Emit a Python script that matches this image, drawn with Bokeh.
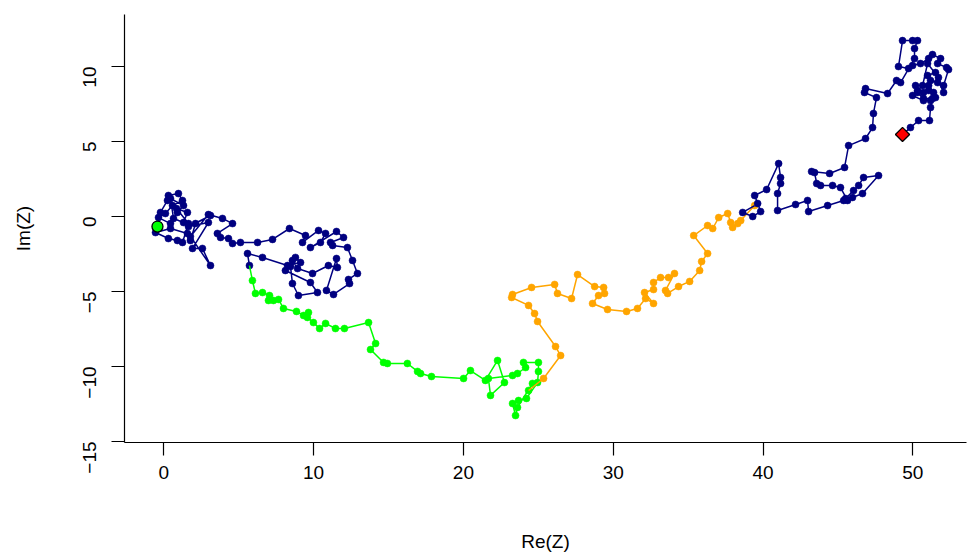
import math
from bokeh.plotting import figure
from bokeh.models import Range1d, FixedTicker
from bokeh.embed import file_html
from bokeh.resources import INLINE

# ---- data (random walk Z) ----
nav1_x = [-0.42,-0.22,0.25,0.31,0.98,1.25,0.58,0.11,-0.35,0.45,0.91,1.32,0.45,0.65,1.32,1.58,0.85,1.65,1.25,0.91,
          0.31,-0.55,0.45,1.58,1.78,2.12,3.12,1.65,2.98,1.92,2.58,3.12,1.78,2.98,3.92,4.59,3.58,3.79,4.32,4.59,
          5.12,6.26,7.26,8.39,9.46,9.26,10.33,10.80,10.46,9.79,11.53,12.00,11.13,11.27,12.26,12.60,12.93,12.33,12.40,11.33,
          10.86,11.53,11.59,10.99,9.93,8.93,8.59,8.79,9.13,8.26,8.12,9.79,10.26,8.99,8.59,8.46,6.59,5.59,5.72]
nav1_y = [-0.67,0.27,1.07,1.40,1.53,1.07,0.73,0.20,-0.07,-0.47,0.27,0.73,1.20,-0.13,-0.40,0.27,0.53,-0.47,-1.73,-1.60,
          -1.47,-1.07,-0.80,-1.13,-1.60,-0.47,0.07,-0.67,-0.40,-2.13,-2.13,-3.27,-1.33,0.13,-0.13,-0.47,-1.13,-1.40,-1.47,-1.80,
          -1.73,-1.73,-1.53,-0.80,-1.27,-1.73,-0.93,-1.13,-1.73,-2.07,-1.00,-1.40,-1.73,-1.93,-2.07,-2.93,-3.80,-4.20,-4.47,-5.20,
          -4.93,-2.80,-3.40,-3.27,-3.80,-3.47,-2.93,-2.73,-3.07,-3.27,-3.60,-4.40,-5.07,-5.27,-4.47,-3.33,-2.73,-2.47,-3.27]

green_x = [5.92,6.12,6.59,7.06,6.99,7.32,7.66,7.99,8.86,9.33,9.66,9.59,9.99,10.40,10.80,11.46,12.06,13.67,14.14,13.80,
           14.67,14.93,16.26,16.94,17.14,17.87,20.01,20.47,21.47,22.28,22.74,21.81,21.67,23.28,23.61,24.15,24.01,25.01,25.01,24.95,
           24.21,23.68,23.28,23.48,23.61,24.61,24.35]
green_y = [-4.27,-5.13,-5.07,-5.27,-5.60,-5.60,-5.53,-6.13,-6.33,-6.60,-6.40,-6.73,-7.07,-7.47,-7.13,-7.47,-7.47,-7.07,-8.47,-8.87,
           -9.73,-9.80,-9.80,-10.33,-10.47,-10.67,-10.80,-10.27,-10.93,-9.60,-11.07,-11.93,-10.80,-10.60,-10.47,-10.07,-9.73,-9.73,-10.33,-11.07,
           -12.13,-12.27,-12.47,-13.27,-12.73,-11.13,-11.60]

orange_x = [25.35,26.49,26.15,24.95,24.75,24.35,23.22,23.28,24.55,26.09,26.28,27.22,27.62,28.76,29.36,29.42,29.02,28.62,29.62,30.89,
            31.62,32.16,32.69,32.09,32.69,32.69,33.16,33.69,34.09,33.49,33.63,34.36,35.10,35.77,35.90,36.30,35.37,36.30,36.64,37.04,
            37.64,37.84,37.97,38.31,38.51,39.44]
orange_y = [-10.80,-9.27,-8.67,-7.00,-6.47,-5.93,-5.40,-5.20,-4.73,-4.53,-5.13,-5.47,-3.87,-4.67,-4.73,-5.13,-5.27,-5.80,-6.20,-6.33,
            -6.13,-5.47,-5.80,-5.07,-4.87,-4.40,-4.07,-4.07,-3.80,-4.93,-5.13,-4.67,-4.33,-3.60,-3.00,-2.47,-1.27,-0.60,-0.80,-0.07,
            0.20,-0.40,-0.73,-0.47,-0.27,0.73]

nav2_x = [38.64,39.31,39.84,39.64,39.44,40.24,41.04,41.17,41.17,40.97,40.97,42.17,42.97,43.04,44.31,45.38,45.51,46.04,46.38,46.71,
          47.71,46.64,45.97,45.64,45.17,44.64,43.84,43.58,43.44,43.24,44.44,45.44,45.71,46.84,47.31,47.37,47.57,46.77,46.84,48.31,
          48.91,49.18,50.11,50.11,50.31,49.98,49.31,49.04,49.71,49.98,50.51,51.05,51.31,51.85,51.65,52.25,52.38,52.05,52.05,51.51,
          50.98,51.18,51.65,51.71,50.98,50.65,50.18,50.31,50.71,51.05,51.05,51.38,51.51,51.18,50.71,49.98,50.31,50.71,51.31,51.18,
          51.11,50.38,49.84,49.31]
nav2_y = [0.27,0.00,0.33,0.87,1.40,1.80,3.53,2.60,2.20,1.53,0.40,0.80,1.07,0.33,0.73,1.07,1.20,1.73,2.07,2.60,
          2.73,1.53,1.27,1.07,1.93,2.07,2.07,2.20,2.93,3.00,2.87,3.27,4.73,5.20,5.93,6.87,7.93,8.27,8.53,8.20,
          9.07,8.93,10.53,11.20,11.73,11.73,11.73,10.00,9.87,10.07,10.20,10.53,10.80,10.53,10.20,9.93,9.80,8.73,8.27,9.60,
          9.40,9.07,8.93,9.27,10.20,8.73,8.73,8.40,8.27,8.40,8.73,8.27,7.93,7.73,7.73,8.07,8.27,7.87,7.87,7.27,
          6.40,6.40,5.93,5.47]

x_ticks = [0, 10, 20, 30, 40, 50]
x_tick_labels = ["0", "10", "20", "30", "40", "50"]
y_ticks = [-15, -10, -5, 0, 5, 10]
y_tick_labels = ["\u221215", "\u221210", "\u22125", "0", "5", "10"]

NAVY = "#000080"
GREEN = "#00FF00"
ORANGE = "#FFA500"
FONT = "Liberation Sans"

p = figure(width=968, height=554, output_backend="svg", toolbar_location=None,
           x_range=Range1d(-2.62, 53.58), y_range=Range1d(-15.07, 13.47),
           min_border_left=124, min_border_right=2, min_border_top=14, min_border_bottom=112)
p.outline_line_color = None
p.grid.visible = False
p.background_fill_color = "white"
p.border_fill_color = "white"

segments = [
    (nav1_x, nav1_y, None, NAVY),
    (green_x, green_y, (nav1_x[-1], nav1_y[-1]), GREEN),
    (orange_x, orange_y, (green_x[-1], green_y[-1]), ORANGE),
    (nav2_x, nav2_y, (orange_x[-1], orange_y[-1]), NAVY),
]
for xs, ys, prev, col in segments:
    lx = ([prev[0]] if prev else []) + list(xs)
    ly = ([prev[1]] if prev else []) + list(ys)
    p.line(lx, ly, line_color=col, line_width=1.5)
    p.scatter(xs, ys, size=7, fill_color=col, line_color=col, line_width=0.5)

# start and end markers
p.scatter([nav1_x[0]], [nav1_y[0]], marker="circle", size=11,
          fill_color=GREEN, line_color="black", line_width=1.3)
p.scatter([nav2_x[-1]], [nav2_y[-1]], marker="square", size=10, angle=math.pi / 4,
          fill_color="#FF0000", line_color="black", line_width=1.3)

for ax in (p.xaxis[0], p.yaxis[0]):
    ax.axis_line_color = "black"
    ax.axis_line_width = 1.2
    ax.major_tick_line_color = "black"
    ax.major_tick_line_width = 1.2
    ax.major_tick_in = 0
    ax.major_tick_out = 13
    ax.minor_tick_line_color = None
    ax.major_label_text_font = FONT
    ax.major_label_text_font_size = "19px"
    ax.major_label_text_color = "black"
    ax.axis_label_text_font = FONT
    ax.axis_label_text_font_size = "19px"
    ax.axis_label_text_font_style = "normal"
    ax.axis_label_text_color = "black"

p.xaxis[0].ticker = FixedTicker(ticks=x_ticks)
p.xaxis[0].major_label_overrides = {t: l for t, l in zip(x_ticks, x_tick_labels)}
p.xaxis[0].axis_label = "Re(Z)"
p.xaxis[0].major_label_standoff = 10
p.xaxis[0].axis_label_standoff = 49

p.yaxis[0].ticker = FixedTicker(ticks=y_ticks)
p.yaxis[0].major_label_overrides = {t: l for t, l in zip(y_ticks, y_tick_labels)}
p.yaxis[0].major_label_orientation = math.pi / 2
p.yaxis[0].axis_label = "Im(Z)"
p.yaxis[0].major_label_standoff = 22
p.yaxis[0].axis_label_standoff = 40

open("out.html", "w").write(file_html(p, INLINE))
